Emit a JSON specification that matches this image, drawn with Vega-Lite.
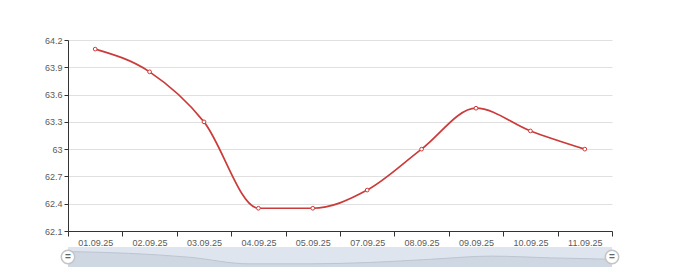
{
  "$schema": "https://vega.github.io/schema/vega-lite/v6.json",
  "autosize": {"type": "pad"},
  "padding": {"left": 44, "top": 36, "right": 60, "bottom": 5},
  "background": "#ffffff",
  "config": {
    "font": "Liberation Sans",
    "view": {"stroke": null},
    "axis": {
      "labelFont": "Liberation Sans",
      "labelFontSize": 9,
      "labelColor": "#5a5a5a",
      "domainColor": "#333333",
      "tickColor": "#333333",
      "gridColor": "#e0e0e0",
      "title": null
    }
  },
  "datasets": {
    "rates": [
      {"date": "01.09.25", "value": 64.1},
      {"date": "02.09.25", "value": 63.85},
      {"date": "03.09.25", "value": 63.3},
      {"date": "04.09.25", "value": 62.35},
      {"date": "05.09.25", "value": 62.35},
      {"date": "07.09.25", "value": 62.55},
      {"date": "08.09.25", "value": 63.0},
      {"date": "09.09.25", "value": 63.45},
      {"date": "10.09.25", "value": 63.2},
      {"date": "11.09.25", "value": 63.0}
    ]
  },
  "vconcat": [
    {
      "width": 544,
      "height": 191,
      "data": {"name": "rates"},
      "encoding": {
        "x": {
          "field": "date",
          "type": "ordinal",
          "sort": null,
          "scale": {"type": "band", "paddingInner": 0, "paddingOuter": 0},
          "axis": {"labelAngle": 0, "tickBand": "extent", "tickSize": 5, "labelPadding": 2, "domainWidth": 1, "grid": false}
        },
        "y": {
          "field": "value",
          "type": "quantitative",
          "scale": {"domain": [62.1, 64.2], "nice": false, "zero": false},
          "axis": {
            "values": [62.1, 62.4, 62.7, 63.0, 63.3, 63.6, 63.9, 64.2],
            "format": "~g",
            "tickSize": 4,
            "labelPadding": 2,
            "grid": true
          }
        }
      },
      "layer": [
        {
          "mark": {"type": "line", "interpolate": "monotone", "color": "#cc3b3b", "strokeWidth": 1.7}
        },
        {
          "mark": {"type": "point", "shape": "circle", "filled": true, "fill": "#ffffff", "stroke": "#cc3b3b", "strokeWidth": 1, "size": 14, "opacity": 1}
        }
      ]
    },
    {
      "width": 544,
      "height": 20,
      "view": {"fill": "#dfe5ee", "stroke": null},
      "data": {"name": "rates"},
      "layer": [
        {
          "mark": {"type": "area", "interpolate": "monotone", "fill": "#cbd3de", "fillOpacity": 0.8, "line": {"color": "#bcc5d1", "strokeWidth": 1}},
          "encoding": {
            "x": {"field": "date", "type": "ordinal", "sort": null, "scale": {"type": "point", "padding": 0}, "axis": null},
            "y": {"field": "value", "type": "quantitative", "scale": {"domain": [61.9, 64.75], "nice": false, "zero": false}, "axis": null},
            "y2": {"datum": 61.9}
          }
        },
        {
          "transform": [{"filter": "datum.date == '01.09.25' || datum.date == '11.09.25'"}],
          "mark": {"type": "point", "shape": "circle", "filled": true, "fill": "#ffffff", "stroke": "#c4c4c4", "strokeWidth": 1.5, "size": 180, "opacity": 1},
          "encoding": {
            "x": {"field": "date", "type": "ordinal", "sort": null, "scale": {"type": "point", "padding": 0}, "axis": null}
          }
        },
        {
          "transform": [{"filter": "datum.date == '01.09.25' || datum.date == '11.09.25'"}],
          "mark": {"type": "text", "text": "=", "fontSize": 10, "fontWeight": "bold", "color": "#666666", "baseline": "middle", "align": "center"},
          "encoding": {
            "x": {"field": "date", "type": "ordinal", "sort": null, "scale": {"type": "point", "padding": 0}, "axis": null}
          }
        }
      ]
    }
  ],
  "bounds": "flush",
  "spacing": 16
}
